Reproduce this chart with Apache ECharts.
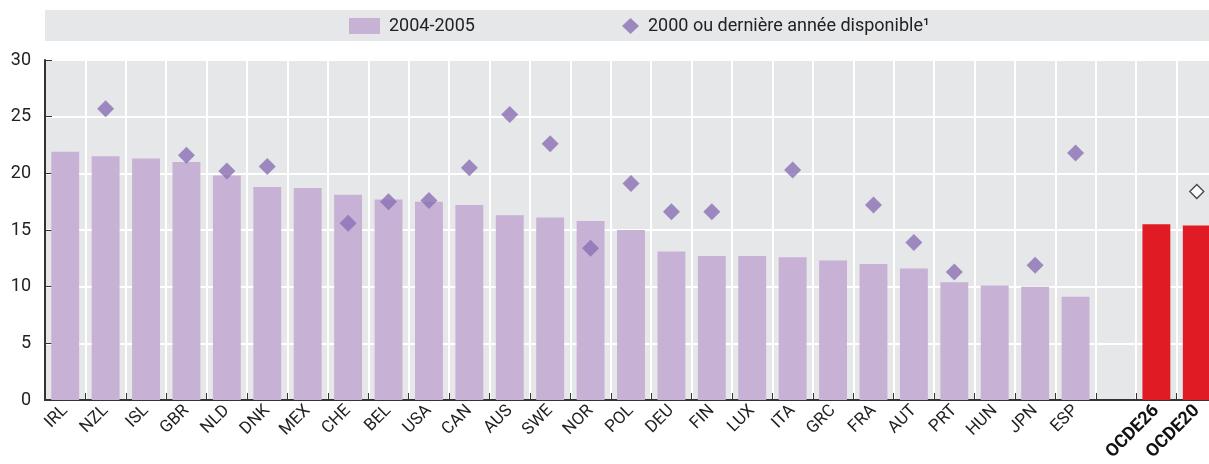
<!DOCTYPE html>
<html>
<head>
<meta charset="utf-8">
<script src="https://cdn.jsdelivr.net/npm/echarts@6/dist/echarts.min.js"></script>
<style>
html,body{margin:0;padding:0;background:#fff;}
#chart{width:1209px;height:464px;}
</style>
</head>
<body>
<div id="chart"></div>
<script>
const categories = ['IRL','NZL','ISL','GBR','NLD','DNK','MEX','CHE','BEL','USA','CAN','AUS','SWE','NOR','POL','DEU','FIN','LUX','ITA','GRC','FRA','AUT','PRT','HUN','JPN','ESP','','OCDE26','OCDE20'];
const values2004 = [21.9,21.5,21.3,21.0,19.8,18.8,18.7,18.1,17.7,17.5,17.2,16.3,16.1,15.8,15.0,13.1,12.7,12.7,12.6,12.3,12.0,11.6,10.4,10.1,10.0,9.1,null,15.5,15.4];
const values2000 = [null,25.7,null,21.6,20.2,20.6,null,15.6,17.5,17.6,20.5,25.2,22.6,13.4,19.1,16.6,16.6,null,20.3,null,17.2,13.9,11.3,null,11.9,21.8,null,null,18.4];
const yTicks = [0,5,10,15,20,25,30];
const seriesNames = ['2004-2005','2000 ou dernière année disponible¹'];

const FONT = 'Roboto, "Liberation Sans", sans-serif';
const highlight = ['OCDE26','OCDE20'];

const barData = values2004.map((v,i)=> highlight.includes(categories[i]) ? {value:v,itemStyle:{color:'#e01b24'}} : v);
const scatterData = values2000.map((v,i)=> highlight.includes(categories[i]) && v!=null ? {value:v,itemStyle:{color:'#ffffff',borderColor:'#1a1a1a',borderWidth:1.3},symbolSize:14} : v);

const chart = echarts.init(document.getElementById('chart'), null, {renderer:'canvas'});
chart.setOption({
  animation:false,
  graphic:[{type:'rect',left:45,top:10,shape:{width:1164,height:31},style:{fill:'#e6e7e9'},z:-1}],
  legend:[
    {data:[seriesNames[0]],left:344,top:12,itemWidth:31,itemHeight:16,icon:'rect',
     textStyle:{fontFamily:FONT,fontSize:18,color:'#222',padding:[0,0,0,4]}},
    {data:[seriesNames[1]],left:617,top:12,itemWidth:17,itemHeight:16,icon:'diamond',
     textStyle:{fontFamily:FONT,fontSize:18,color:'#222',padding:[0,0,0,4]}}
  ],
  grid:{left:45,width:1172,top:60,height:340,show:true,backgroundColor:'#e6e7e9',borderWidth:0,
        containLabel:false,outerBoundsMode:'none'},
  xAxis:{
    type:'category',data:categories,boundaryGap:true,
    axisLine:{lineStyle:{color:'#333',width:2}},
    axisTick:{show:true,inside:true,length:7,interval:0,lineStyle:{color:'#333',width:1}},
    splitLine:{show:true,interval:0,lineStyle:{color:'#ffffff',width:2}},
    axisLabel:{interval:0,rotate:45,margin:8,fontFamily:FONT,fontSize:17,color:'#222',
      formatter:(v)=> highlight.includes(v) ? '{b|'+v+'}' : v,
      rich:{b:{fontFamily:FONT,fontSize:18,fontWeight:'bold',color:'#111'}}}
  },
  yAxis:{
    type:'value',min:yTicks[0],max:yTicks[yTicks.length-1],interval:5,
    axisLine:{show:true,lineStyle:{color:'#333',width:2}},
    axisTick:{show:true,inside:true,length:7,lineStyle:{color:'#333',width:1}},
    splitLine:{show:true,lineStyle:{color:'#ffffff',width:2}},
    axisLabel:{margin:14,fontFamily:FONT,fontSize:18,color:'#222'}
  },
  series:[
    {name:seriesNames[0],type:'bar',data:barData,barWidth:'69%',itemStyle:{color:'#c7b1d5'},z:2},
    {name:seriesNames[1],type:'scatter',data:scatterData,symbol:'diamond',symbolSize:[17,17],itemStyle:{color:'#8a70b4'},z:3}
  ]
});
</script>
</body>
</html>
